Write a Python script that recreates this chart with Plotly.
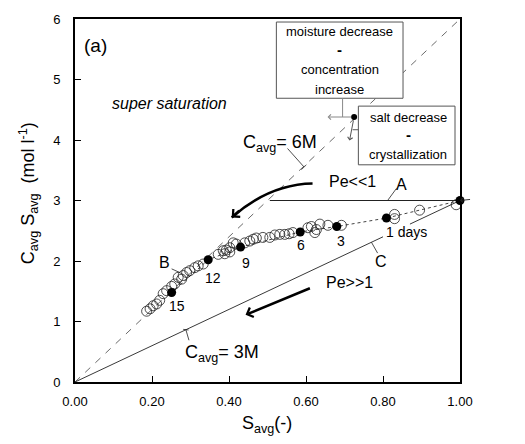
import plotly.graph_objects as go

# ---- data ----
open_x = [0.990, 0.895, 0.830, 0.830, 0.692, 0.657, 0.636, 0.627, 0.614, 0.623, 0.605,
          0.566, 0.556, 0.545, 0.532, 0.519, 0.506, 0.488, 0.471, 0.463, 0.454, 0.441,
          0.419, 0.411, 0.402, 0.393, 0.385, 0.372, 0.389, 0.402, 0.333, 0.320, 0.311,
          0.298, 0.290, 0.281, 0.277, 0.268, 0.259, 0.251, 0.238, 0.229, 0.220, 0.212,
          0.203, 0.195, 0.186]
open_y = [2.93, 2.84, 2.77, 2.70, 2.59, 2.59, 2.61, 2.52, 2.57, 2.47, 2.55,
          2.47, 2.45, 2.44, 2.44, 2.43, 2.39, 2.39, 2.38, 2.36, 2.33, 2.30,
          2.28, 2.30, 2.22, 2.18, 2.17, 2.11, 2.12, 2.15, 1.95, 1.92, 1.89,
          1.84, 1.81, 1.76, 1.70, 1.73, 1.62, 1.58, 1.51, 1.46, 1.35, 1.29,
          1.26, 1.21, 1.17]

day_labels = ["start", "1", "3", "6", "9", "12", "15"]
day_x = [1.00, 0.809, 0.680, 0.585, 0.430, 0.346, 0.251]
day_y = [3.00, 2.71, 2.57, 2.48, 2.23, 2.02, 1.48]

# reference lines C_avg = 6M (dashed) and C_avg = 3M (solid, interrupted by label)
line6_x = [0.0, 1.0]
line6_y = [0.0, 6.0]
line3_x = [0.0, 0.80, None, 0.87, 1.0]
line3_y = [0.0, 2.40, None, 2.61, 3.0]
lineA_x = [0.506, 1.0]
lineA_y = [3.0, 3.0]
demo_x = [0.725]
demo_y = [4.38]

x_ticks = [0.0, 0.2, 0.4, 0.6, 0.8, 1.0]
x_ticktext = ["0.00", "0.20", "0.40", "0.60", "0.80", "1.00"]
y_ticks = [0, 1, 2, 3, 4, 5, 6]

FONT = "Liberation Sans, Arial, sans-serif"

fig = go.Figure()
fig.add_trace(go.Scatter(x=line6_x, y=line6_y, mode="lines",
                         line=dict(color="#444", width=0.8, dash="7px,7px"), hoverinfo="skip"))
fig.add_trace(go.Scatter(x=line3_x, y=line3_y, mode="lines",
                         line=dict(color="#222", width=0.9), hoverinfo="skip"))
fig.add_trace(go.Scatter(x=lineA_x, y=lineA_y, mode="lines",
                         line=dict(color="#222", width=1.1), hoverinfo="skip", cliponaxis=False))
fig.add_trace(go.Scatter(x=day_x, y=day_y, mode="lines",
                         line=dict(color="#444", width=1, dash="dot"), hoverinfo="skip"))
fig.add_trace(go.Scatter(x=open_x, y=open_y, mode="markers", cliponaxis=False,
                         marker=dict(symbol="circle-open", size=10, color="#222",
                                     line=dict(width=0.8, color="#222"))))
fig.add_trace(go.Scatter(x=day_x, y=day_y, mode="markers", cliponaxis=False,
                         marker=dict(symbol="circle", size=9, color="black")))

shapes = []
# boxes
shapes.append(dict(type="rect", xref="x", yref="y", x0=0.523, x1=0.852, y0=4.69, y1=5.95,
                   fillcolor="white", line=dict(color="#555", width=1), layer="above"))
shapes.append(dict(type="rect", xref="x", yref="y", x0=0.736, x1=0.987, y0=3.59, y1=4.56,
                   fillcolor="white", line=dict(color="#555", width=1), layer="above"))
# moisture connector
shapes.append(dict(type="line", xref="x", yref="y", x0=0.695, x1=0.695, y0=4.69, y1=4.38,
                   line=dict(color="#888", width=1)))
shapes.append(dict(type="line", xref="x", yref="y", x0=0.721, x1=0.736, y0=4.17, y1=4.17,
                   line=dict(color="#555", width=1)))
# curved arrow shaft
shapes.append(dict(type="path", xref="x", yref="y",
                   path="M 0.617,3.28 Q 0.506,3.27 0.407,2.72",
                   line=dict(color="black", width=2.5)))
# label connectors
def seg(x0, y0, x1, y1, w=0.8):
    shapes.append(dict(type="line", xref="x", yref="y", x0=x0, y0=y0, x1=x1, y1=y1,
                       line=dict(color="#222", width=w)))
seg(0.552, 3.86, 0.594, 3.56)
seg(0.588, 3.51, 0.601, 3.59)
seg(0.835, 3.20, 0.812, 3.00)
seg(0.770, 2.31, 0.786, 2.13)
seg(0.251, 1.87, 0.272, 1.81)
seg(0.288, 0.864, 0.296, 0.69)
seg(0.281, 0.87, 0.295, 0.86)

anns = []
def txt(s, x, y, size=15, italic=False, bold=False, xref="x", yref="y", **kw):
    if bold:
        s = "<b>" + s + "</b>"
    if italic:
        s = "<i>" + s + "</i>"
    d = dict(text=s, x=x, y=y, xref=xref, yref=yref, showarrow=False,
             font=dict(family=FONT, size=size, color="black"))
    d.update(kw)
    anns.append(d)

def arrow(x, y, ax, ay, w=1, color="black", head=4, size=1.0, rel=False):
    d = dict(text="", x=x, y=y, ax=ax, ay=ay, xref="x", yref="y",
             showarrow=True, arrowhead=head, arrowwidth=w, arrowcolor=color,
             arrowsize=size, standoff=0, startstandoff=0)
    if not rel:
        d.update(axref="x", ayref="y")
    anns.append(d)

txt("(a)", 0.054, 5.57, size=19)
txt("super saturation", 0.246, 4.60, size=16, italic=True)
txt("moisture decrease", 0.688, 5.79, size=13)
txt("-", 0.688, 5.49, size=15, bold=True)
txt("concentration", 0.688, 5.16, size=13)
txt("increase", 0.688, 4.83, size=13)
txt("salt decrease", 0.865, 4.38, size=13)
txt("-", 0.865, 4.09, size=15, bold=True)
txt("crystallization", 0.865, 3.76, size=13)
txt("C<sub>avg</sub>= 6M", 0.532, 3.95, size=18)
txt("Pe<<1", 0.721, 3.32, size=16)
txt("A", 0.848, 3.27, size=16)
txt("start", 1.105, 3.22, size=16)
txt("3M", 1.110, 2.76, size=16)
txt("1 days", 0.861, 2.48, size=14)
txt("3", 0.690, 2.33, size=14)
txt("6", 0.586, 2.27, size=14)
txt("9", 0.444, 1.97, size=14)
txt("12", 0.358, 1.72, size=14)
txt("15", 0.265, 1.25, size=14)
txt("B", 0.233, 1.97, size=16)
txt("C", 0.796, 2.00, size=16)
txt("Pe>>1", 0.713, 1.64, size=16)
txt("C<sub>avg</sub>= 3M", 0.381, 0.47, size=18)

# axis titles
txt("S<sub>avg</sub>(-)", 0.498, -0.155, size=18, xref="paper", yref="paper")
txt("C<sub>avg</sub> S<sub>avg</sub>  (mol l<sup>-1</sup>)", -0.16, 0.52, size=18,
    xref="paper", yref="paper", textangle=-90)

# arrows
arrow(0.656, 4.38, 0.721, 4.38, w=1, color="#888")
arrow(0.713, 3.99, 0.724, 4.35, w=1, color="#555")
arrow(1.0, 3.0, 1.03, 3.02, w=0.9, color="#222")
arrow(0.407, 2.72, 9, -8, w=2.5, rel=True, size=0.8)
arrow(0.443, 1.11, 0.614, 1.56, w=2.5, size=0.8)

fig.add_trace(go.Scatter(x=demo_x, y=demo_y, mode="markers",
                         marker=dict(symbol="circle", size=6, color="black")))

fig.update_layout(
    width=525, height=444, margin=dict(l=75, r=65, t=17, b=62),
    paper_bgcolor="white", plot_bgcolor="white", showlegend=False,
    font=dict(family=FONT, size=13, color="black"),
    shapes=shapes, annotations=anns,
    xaxis=dict(range=[0, 1], tickvals=x_ticks, ticktext=x_ticktext, ticks="inside",
               ticklen=6, tickwidth=1, tickcolor="black", showgrid=False, zeroline=False,
               showline=True, linecolor="black", linewidth=1.8, mirror=True,
               tickfont=dict(size=13, family=FONT), ticklabelstandoff=6),
    yaxis=dict(range=[0, 6], tickvals=y_ticks, ticks="inside", ticklen=6, tickwidth=1,
               tickcolor="black", showgrid=False, zeroline=False, showline=True,
               linecolor="black", linewidth=1.8, mirror=True,
               tickfont=dict(size=13, family=FONT), ticklabelstandoff=10),
)
fig.write_html("out.html")
